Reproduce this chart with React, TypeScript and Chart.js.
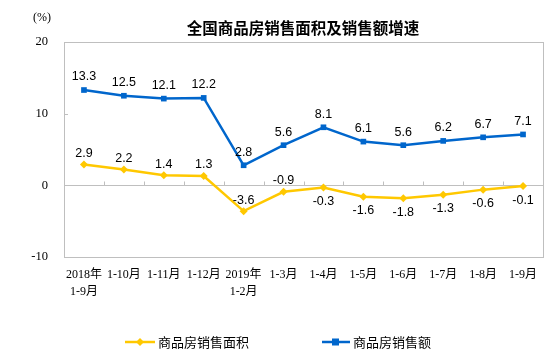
import React, { useEffect, useRef } from "react";
import { Chart, registerables } from "chart.js";

Chart.register(...registerables);

const categories: (string | string[])[] = [
  ["2018年", "1-9月"], "1-10月", "1-11月", "1-12月", ["2019年", "1-2月"],
  "1-3月", "1-4月", "1-5月", "1-6月", "1-7月", "1-8月", "1-9月",
];
const areaGrowth = [2.9, 2.2, 1.4, 1.3, -3.6, -0.9, -0.3, -1.6, -1.8, -1.3, -0.6, -0.1];
const salesGrowth = [13.3, 12.5, 12.1, 12.2, 2.8, 5.6, 8.1, 6.1, 5.6, 6.2, 6.7, 7.1];
const seriesNames = ["商品房销售面积", "商品房销售额"];
const yTicks = [-10, 0, 10, 20];
const titleText = "全国商品房销售面积及销售额增速";
const unitText = "(%)";

const YELLOW = "#FFC800";
const BLUE = "#0066CC";
const GRID = "#BFBFBF";
const CJK = "'Noto Sans CJK SC', sans-serif";

export default function App() {
  const ref = useRef<HTMLCanvasElement>(null);
  useEffect(() => {
    document.body.style.margin = "0";
    const canvas = ref.current!;
    const decor = {
      id: "decor",
      beforeDatasetsDraw(chart: any) {
        const { ctx, chartArea: a, scales } = chart;
        const y = scales.y;
        const x = scales.x;
        ctx.save();
        ctx.strokeStyle = GRID;
        ctx.lineWidth = 1;
        ctx.strokeRect(Math.round(a.left) + 0.5, Math.round(a.top) + 0.5, Math.round(a.right - a.left), Math.round(a.bottom - a.top));
        const y0 = Math.round(y.getPixelForValue(0)) + 0.5;
        ctx.beginPath();
        ctx.moveTo(a.left, y0);
        ctx.lineTo(a.right, y0);
        yTicks.forEach((t) => {
          const py = Math.round(y.getPixelForValue(t)) + 0.5;
          ctx.moveTo(a.left, py);
          ctx.lineTo(a.left + 4, py);
        });
        const n = categories.length;
        const w = (a.right - a.left) / n;
        for (let k = 1; k < n; k++) {
          const px = Math.round(a.left + w * k) + 0.5;
          ctx.moveTo(px, y0);
          ctx.lineTo(px, y0 - 4);
        }
        ctx.stroke();
        ctx.restore();
      },
      afterDatasetsDraw(chart: any) {
        const { ctx } = chart;
        ctx.save();
        ctx.font = "12.5px 'Liberation Sans', Arial, sans-serif";
        ctx.fillStyle = "#000";
        ctx.textAlign = "center";
        ctx.textBaseline = "middle";
        chart.data.datasets.forEach((ds: any, i: number) => {
          const meta = chart.getDatasetMeta(i);
          meta.data.forEach((pt: any, j: number) => {
            const v = ds.data[j] as number;
            let ly;
            if (i === 1) ly = pt.y - 13;
            else if (j <= 5) ly = pt.y - 11;
            else ly = pt.y + 14;
            ctx.fillText(v.toFixed(1), pt.x, ly);
          });
        });
        // title
        ctx.font = `bold 15.5px ${CJK}`;
        ctx.fillText(titleText, 303, 28);
        ctx.font = "12px 'Liberation Serif', serif";
        ctx.fillText(unitText, 42, 18);
        // legend
        const ly = 342;
        ctx.lineWidth = 2.5;
        ctx.strokeStyle = YELLOW;
        ctx.beginPath();
        ctx.moveTo(125, ly);
        ctx.lineTo(155, ly);
        ctx.stroke();
        ctx.fillStyle = YELLOW;
        ctx.beginPath();
        ctx.moveTo(140, ly - 4);
        ctx.lineTo(144, ly);
        ctx.lineTo(140, ly + 4);
        ctx.lineTo(136, ly);
        ctx.closePath();
        ctx.fill();
        ctx.strokeStyle = BLUE;
        ctx.beginPath();
        ctx.moveTo(322, ly);
        ctx.lineTo(350, ly);
        ctx.stroke();
        ctx.fillStyle = BLUE;
        ctx.fillRect(332, ly - 3.5, 7, 7);
        ctx.fillStyle = "#000";
        ctx.textAlign = "left";
        ctx.font = `13px ${CJK}`;
        ctx.fillText(seriesNames[0], 158, ly);
        ctx.fillText(seriesNames[1], 353, ly);
        ctx.restore();
      },
    };
    const chart = new Chart(canvas, {
      type: "line",
      data: {
        labels: categories,
        datasets: [
          {
            label: seriesNames[0],
            data: areaGrowth,
            borderColor: YELLOW,
            backgroundColor: YELLOW,
            borderWidth: 2.5,
            pointStyle: "rectRot",
            pointRadius: 4,
            pointBorderWidth: 0,
            tension: 0,
          },
          {
            label: seriesNames[1],
            data: salesGrowth,
            borderColor: BLUE,
            backgroundColor: BLUE,
            borderWidth: 2.5,
            pointStyle: "rect",
            pointRadius: 4,
            pointBorderWidth: 0,
            tension: 0,
          },
        ],
      },
      options: {
        responsive: false,
        animation: false,
        devicePixelRatio: 1,
        layout: { padding: { top: 42, right: 15, left: 0, bottom: 0 } },
        plugins: { legend: { display: false }, title: { display: false }, tooltip: { enabled: false } },
        scales: {
          x: {
            type: "category",
            offset: true,
            grid: { display: false, drawTicks: false },
            border: { display: false },
            ticks: {
              color: "#000",
              font: { family: "'Liberation Serif', 'Noto Sans CJK SC', serif", size: 12, lineHeight: 1.45 },
              padding: 9,
              maxRotation: 0,
              autoSkip: false,
            },
            afterFit(scale: any) {
              scale.height = 105;
            },
          },
          y: {
            min: -10,
            max: 20,
            grid: { display: false, drawTicks: false },
            border: { display: false },
            ticks: {
              stepSize: 10,
              color: "#000",
              font: { family: "'Liberation Serif', serif", size: 12.5 },
              padding: 16,
            },
            afterFit(scale: any) {
              scale.width = 64;
            },
          },
        },
      },
      plugins: [decor],
    } as any);
    return () => chart.destroy();
  }, []);
  return (
    <div style={{ width: 558, height: 362 }}>
      <canvas ref={ref} width={558} height={362} />
    </div>
  );
}
